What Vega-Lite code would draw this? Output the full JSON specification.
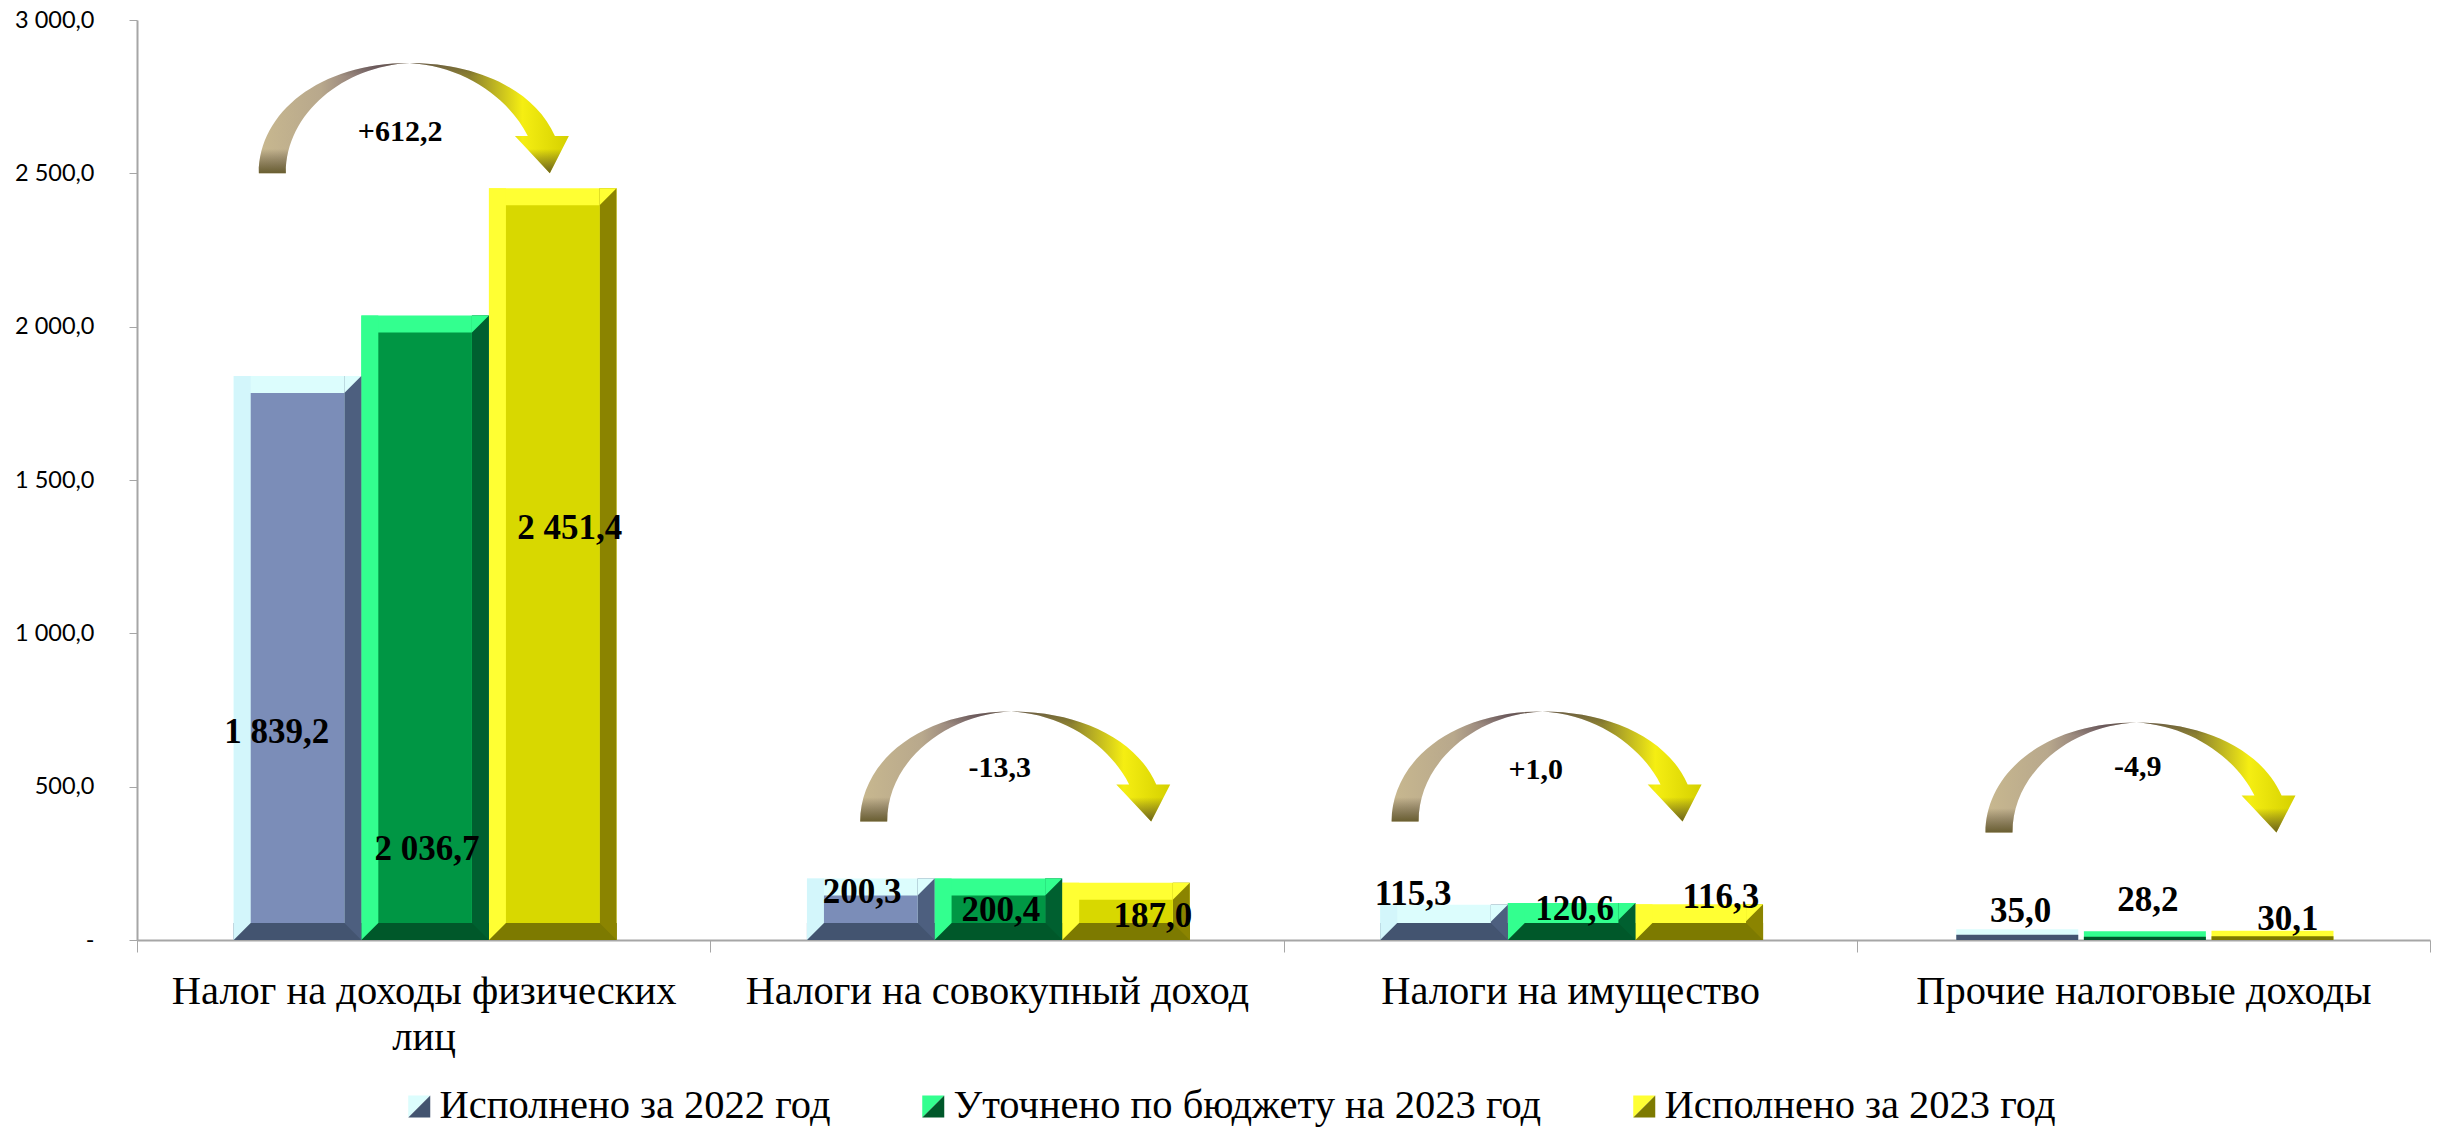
{"$schema":"https://vega.github.io/schema/vega-lite/v6.json","autosize":"none","width":2293,"height":920,"padding":{"left":137,"top":20,"right":13,"bottom":189},"background":"white","config":{"view":{"stroke":null},"bar":{"stroke":null}},
"datasets":{"bars":[
{"category":"Налог на доходы физических лиц","series":"Исполнено за 2022 год","value":1839.2,"label":"1 839,2","labelX":0.244,"labelY":678},
{"category":"Налог на доходы физических лиц","series":"Уточнено по бюджету на 2023 год","value":2036.7,"label":"2 036,7","labelX":0.506,"labelY":297},
{"category":"Налог на доходы физических лиц","series":"Исполнено за 2023 год","value":2451.4,"label":"2 451,4","labelX":0.755,"labelY":1344},
{"category":"Налоги на совокупный доход","series":"Исполнено за 2022 год","value":200.3,"label":"200,3","labelX":1.265,"labelY":157},
{"category":"Налоги на совокупный доход","series":"Уточнено по бюджету на 2023 год","value":200.4,"label":"200,4","labelX":1.507,"labelY":98},
{"category":"Налоги на совокупный доход","series":"Исполнено за 2023 год","value":187.0,"label":"187,0","labelX":1.772,"labelY":79},
{"category":"Налоги на имущество","series":"Исполнено за 2022 год","value":115.3,"label":"115,3","labelX":2.226,"labelY":150},
{"category":"Налоги на имущество","series":"Уточнено по бюджету на 2023 год","value":120.6,"label":"120,6","labelX":2.508,"labelY":101},
{"category":"Налоги на имущество","series":"Исполнено за 2023 год","value":116.3,"label":"116,3","labelX":2.763,"labelY":140},
{"category":"Прочие налоговые доходы","series":"Исполнено за 2022 год","value":35.0,"label":"35,0","labelX":3.286,"labelY":95},
{"category":"Прочие налоговые доходы","series":"Уточнено по бюджету на 2023 год","value":28.2,"label":"28,2","labelX":3.508,"labelY":131},
{"category":"Прочие налоговые доходы","series":"Исполнено за 2023 год","value":30.1,"label":"30,1","labelX":3.752,"labelY":69}],
"arrows":[
{"category":"Налог на доходы физических лиц","change":"+612,2","arrowX":0.483,"arrowY":2680,"textX":0.459,"textY":2635},
{"category":"Налоги на совокупный доход","change":"-13,3","arrowX":1.532,"arrowY":566,"textX":1.505,"textY":561},
{"category":"Налоги на имущество","change":"+1,0","arrowX":2.459,"arrowY":566,"textX":2.44,"textY":555},
{"category":"Прочие налоговые доходы","change":"-4,9","arrowX":3.495,"arrowY":530,"textX":3.49,"textY":564}]},
"data":{"name":"bars"},
"layer":[
{"transform":[{"filter":"datum.value >= 100"}],"mark":{"type":"bar"},"encoding":{
"x":{"field":"category","type":"nominal","sort":null,"scale":{"domain":["Налог на доходы физических лиц","Налоги на совокупный доход","Налоги на имущество","Прочие налоговые доходы"],"paddingInner":0,"paddingOuter":0},"axis":{"title":null,"labelAngle":0,"labelFont":"Liberation Serif","labelFontSize":40.5,"labelColor":"#000000","domainColor":"#a6a6a6","domainWidth":2,"tickColor":"#a6a6a6","tickBand":"extent","tickSize":12,"labelPadding":19,"labelLimit":0,"labelOverlap":false,"labelLineHeight":46,"labelExpr":"datum.label == 'Налог на доходы физических лиц' ? ['Налог на доходы физических','лиц'] : datum.label"}},
"xOffset":{"field":"series","sort":null,"scale":{"paddingOuter":0.746,"paddingInner":0,"range":[1.5,574.75]}},
"y":{"field":"value","type":"quantitative","title":null,"scale":{"domain":[0,3000],"nice":false},"axis":{"title":null,"values":[0,500,1000,1500,2000,2500,3000],"grid":false,"labelFont":"Lato","labelFontSize":23.5,"labelColor":"#000000","domainColor":"#a6a6a6","domainWidth":2,"tickColor":"#a6a6a6","tickSize":8,"labelPadding":35,"labelExpr":"datum.value == 0 ? '-' : replace(replace(format(datum.value, ',.1f'), ',', ' '), '.', ',')"}},
"color":{"field":"series","type":"nominal","sort":null,"scale":{"range":["#dcfdfd","#33ff8f","#ffff33"]},
"legend":{"orient":"none","direction":"horizontal","columns":3,"legendX":262,"legendY":1066,"title":null,"symbolType":"M-1,-1 L1,-1 L-1,1 Z","symbolSize":484,"symbolStrokeWidth":0,"symbolOpacity":1,"labelFont":"Liberation Serif","labelFontSize":40.5,"labelColor":"transparent","labelLimit":0,"labelOffset":0,"columnPadding":82}}}},
{"transform":[{"filter":"datum.value >= 100"}],"mark":{"type":"bar","width":17},"encoding":{"x":{"field":"category","type":"nominal","sort":null,"scale":{"domain":["Налог на доходы физических лиц","Налоги на совокупный доход","Налоги на имущество","Прочие налоговые доходы"],"paddingInner":0,"paddingOuter":0},"axis":null},"xOffset":{"field":"series","sort":null,"scale":{"paddingOuter":0.746,"paddingInner":0,"range":[-53.8,519.45]}},"y":{"field":"value","type":"quantitative","title":null},"color":{"field":"series","type":"nominal","sort":null,"legend":null,"scale":{"range":["#d3f6fb","#33ff8f","#ffff33"]}}}},
{"transform":[{"filter":"datum.value >= 100"}],"mark":{"type":"bar","width":17},"encoding":{"x":{"field":"category","type":"nominal","sort":null,"scale":{"domain":["Налог на доходы физических лиц","Налоги на совокупный доход","Налоги на имущество","Прочие налоговые доходы"],"paddingInner":0,"paddingOuter":0},"axis":null},"xOffset":{"field":"series","sort":null,"scale":{"paddingOuter":0.746,"paddingInner":0,"range":[56.8,630.05]}},"y":{"field":"value","type":"quantitative","title":null},"color":{"field":"series","type":"nominal","sort":null,"legend":null,"scale":{"range":["#4d5f7f","#006030","#8b8400"]}}}},
{"transform":[{"filter":"datum.value >= 100"}],"mark":{"type":"bar","yOffset":-17},"encoding":{"x":{"field":"category","type":"nominal","sort":null,"scale":{"domain":["Налог на доходы физических лиц","Налоги на совокупный доход","Налоги на имущество","Прочие налоговые доходы"],"paddingInner":0,"paddingOuter":0},"axis":null},"xOffset":{"field":"series","sort":null,"scale":{"paddingOuter":0.746,"paddingInner":0,"range":[1.5,574.75]}},"y":{"datum":0,"type":"quantitative","title":null},"y2":{"datum":0},"color":{"field":"series","type":"nominal","sort":null,"scale":{"range":["#435470","#00582a","#7d7a00"]},
"legend":{"orient":"none","direction":"horizontal","columns":3,"legendX":262,"legendY":1066,"title":null,"symbolType":"M1,-1 L1,1 L-1,1 Z","symbolSize":484,"symbolStrokeWidth":0,"symbolOpacity":1,"labelFont":"Liberation Serif","labelFontSize":40.5,"labelColor":"#000000","labelLimit":0,"labelOffset":0,"columnPadding":82}}}},
{"transform":[{"filter":"datum.value >= 150"}],"mark":{"type":"bar","width":93.6,"yOffset":17,"y2Offset":-17},"encoding":{"x":{"field":"category","type":"nominal","sort":null,"scale":{"domain":["Налог на доходы физических лиц","Налоги на совокупный доход","Налоги на имущество","Прочие налоговые доходы"],"paddingInner":0,"paddingOuter":0},"axis":null},"xOffset":{"field":"series","sort":null,"scale":{"paddingOuter":0.746,"paddingInner":0,"range":[1.5,574.75]}},"y":{"field":"value","type":"quantitative","title":null},"y2":{"datum":0},"color":{"field":"series","type":"nominal","sort":null,"legend":null,"scale":{"range":["#7b8db8","#009644","#d8d800"]}}}},
{"transform":[{"filter":"datum.value >= 100"}],"mark":{"type":"point","filled":true,"opacity":1,"strokeWidth":0,"size":289,"shape":"M-1,1 L-1,-1 L1,-1 Z","yOffset":-8.5},"encoding":{"x":{"field":"category","type":"nominal","sort":null,"scale":{"type":"band","domain":["Налог на доходы физических лиц","Налоги на совокупный доход","Налоги на имущество","Прочие налоговые доходы"],"paddingInner":0,"paddingOuter":0},"axis":null},"xOffset":{"field":"series","sort":null,"scale":{"type":"band","paddingOuter":0.746,"paddingInner":0,"range":[-53.8,519.45]}},"y":{"datum":0,"type":"quantitative","title":null},"color":{"field":"series","type":"nominal","sort":null,"legend":null,"scale":{"range":["#d3f6fb","#33ff8f","#ffff33"]}}}},
{"transform":[{"filter":"datum.value >= 100"}],"mark":{"type":"point","filled":true,"opacity":1,"strokeWidth":0,"size":289,"shape":"M-1,-1 L1,-1 L-1,1 Z","yOffset":8.5},"encoding":{"x":{"field":"category","type":"nominal","sort":null,"scale":{"type":"band","domain":["Налог на доходы физических лиц","Налоги на совокупный доход","Налоги на имущество","Прочие налоговые доходы"],"paddingInner":0,"paddingOuter":0},"axis":null},"xOffset":{"field":"series","sort":null,"scale":{"type":"band","paddingOuter":0.746,"paddingInner":0,"range":[56.8,630.05]}},"y":{"field":"value","type":"quantitative","title":null},"color":{"field":"series","type":"nominal","sort":null,"legend":null,"scale":{"range":["#dcfdfd","#33ff8f","#ffff33"]}}}},
{"transform":[{"filter":"datum.value >= 100"}],"mark":{"type":"point","filled":true,"opacity":1,"strokeWidth":0,"size":289,"shape":"M-1,-1 L1,-1 L1,1 Z","yOffset":-8.5},"encoding":{"x":{"field":"category","type":"nominal","sort":null,"scale":{"type":"band","domain":["Налог на доходы физических лиц","Налоги на совокупный доход","Налоги на имущество","Прочие налоговые доходы"],"paddingInner":0,"paddingOuter":0},"axis":null},"xOffset":{"field":"series","sort":null,"scale":{"type":"band","paddingOuter":0.746,"paddingInner":0,"range":[56.8,630.05]}},"y":{"datum":0,"type":"quantitative","title":null},"color":{"field":"series","type":"nominal","sort":null,"legend":null,"scale":{"range":["#4d5f7f","#006030","#8b8400"]}}}},
{"transform":[{"filter":"datum.value < 100"}],"mark":{"type":"bar","width":122},"encoding":{"x":{"field":"category","type":"nominal","sort":null,"scale":{"domain":["Налог на доходы физических лиц","Налоги на совокупный доход","Налоги на имущество","Прочие налоговые доходы"],"paddingInner":0,"paddingOuter":0},"axis":null},"xOffset":{"field":"series","sort":null,"scale":{"paddingOuter":0.746,"paddingInner":0,"range":[1.5,574.75]}},"y":{"field":"value","type":"quantitative","title":null},"color":{"field":"series","type":"nominal","sort":null,"legend":null,"scale":{"range":["#dcfdfd","#33ff8f","#ffff33"]}}}},
{"transform":[{"filter":"datum.value < 100"}],"mark":{"type":"bar","width":122,"yOffset":5.5},"encoding":{"x":{"field":"category","type":"nominal","sort":null,"scale":{"domain":["Налог на доходы физических лиц","Налоги на совокупный доход","Налоги на имущество","Прочие налоговые доходы"],"paddingInner":0,"paddingOuter":0},"axis":null},"xOffset":{"field":"series","sort":null,"scale":{"paddingOuter":0.746,"paddingInner":0,"range":[1.5,574.75]}},"y":{"field":"value","type":"quantitative","title":null},"y2":{"datum":0},"color":{"field":"series","type":"nominal","sort":null,"legend":null,"scale":{"range":["#435470","#00582a","#7d7a00"]}}}},
{"mark":{"type":"text","font":"Liberation Serif","fontWeight":"bold","fontSize":35,"color":"#000000","align":"center","baseline":"middle"},"encoding":{"x":{"field":"labelX","type":"quantitative","scale":{"domain":[0,4],"nice":false,"zero":false},"axis":null},"y":{"field":"labelY","type":"quantitative","title":null},"text":{"field":"label"}}},
{"data":{"name":"arrows"},"mark":{"type":"point","filled":true,"opacity":1,"strokeWidth":0,"size":96100,"shape":"M-1,.355 C-1,-.032 -.613,-.355 -.026,-.355 C.387,-.355 .774,-.194 .91,.116 L1,.116 L.877,.355 L.652,.116 L.735,.116 C.613,-.129 .323,-.335 -.026,-.355 C-.452,-.335 -.826,-.032 -.826,.355 Z","fill":{"gradient":"linear","x1":0,"y1":0,"x2":1,"y2":0,"stops":[{"offset":0,"color":"#c8b88f"},{"offset":0.2,"color":"#b8a88c"},{"offset":0.38,"color":"#7c6870"},{"offset":0.5,"color":"#8a7a5c"},{"offset":0.68,"color":"#8b8030"},{"offset":0.85,"color":"#f5ee12"},{"offset":1,"color":"#d5d000"}]}},"encoding":{"x":{"field":"arrowX","type":"quantitative","scale":{"domain":[0,4],"nice":false,"zero":false},"axis":null},"y":{"field":"arrowY","type":"quantitative","title":null}}},
{"data":{"name":"arrows"},"mark":{"type":"point","filled":true,"opacity":1,"strokeWidth":0,"size":96100,"shape":"M-1,.355 C-1,-.032 -.613,-.355 -.026,-.355 C.387,-.355 .774,-.194 .91,.116 L1,.116 L.877,.355 L.652,.116 L.735,.116 C.613,-.129 .323,-.335 -.026,-.355 C-.452,-.335 -.826,-.032 -.826,.355 Z","fill":{"gradient":"linear","x1":0,"y1":0,"x2":0,"y2":1,"stops":[{"offset":0,"color":"rgba(64,53,42,0.4)"},{"offset":0.12,"color":"rgba(64,53,42,0)"},{"offset":0.78,"color":"rgba(64,53,42,0)"},{"offset":1,"color":"rgba(90,80,32,0.85)"}]}},"encoding":{"x":{"field":"arrowX","type":"quantitative","scale":{"domain":[0,4],"nice":false,"zero":false},"axis":null},"y":{"field":"arrowY","type":"quantitative","title":null}}},
{"data":{"name":"arrows"},"mark":{"type":"text","font":"Liberation Serif","fontWeight":"bold","fontSize":30,"color":"#000000","align":"center","baseline":"middle"},"encoding":{"x":{"field":"textX","type":"quantitative","scale":{"domain":[0,4],"nice":false,"zero":false},"axis":null},"y":{"field":"textY","type":"quantitative","title":null},"text":{"field":"change"}}}
],
"resolve":{"scale":{"x":"independent","color":"independent","xOffset":"independent"}}}
